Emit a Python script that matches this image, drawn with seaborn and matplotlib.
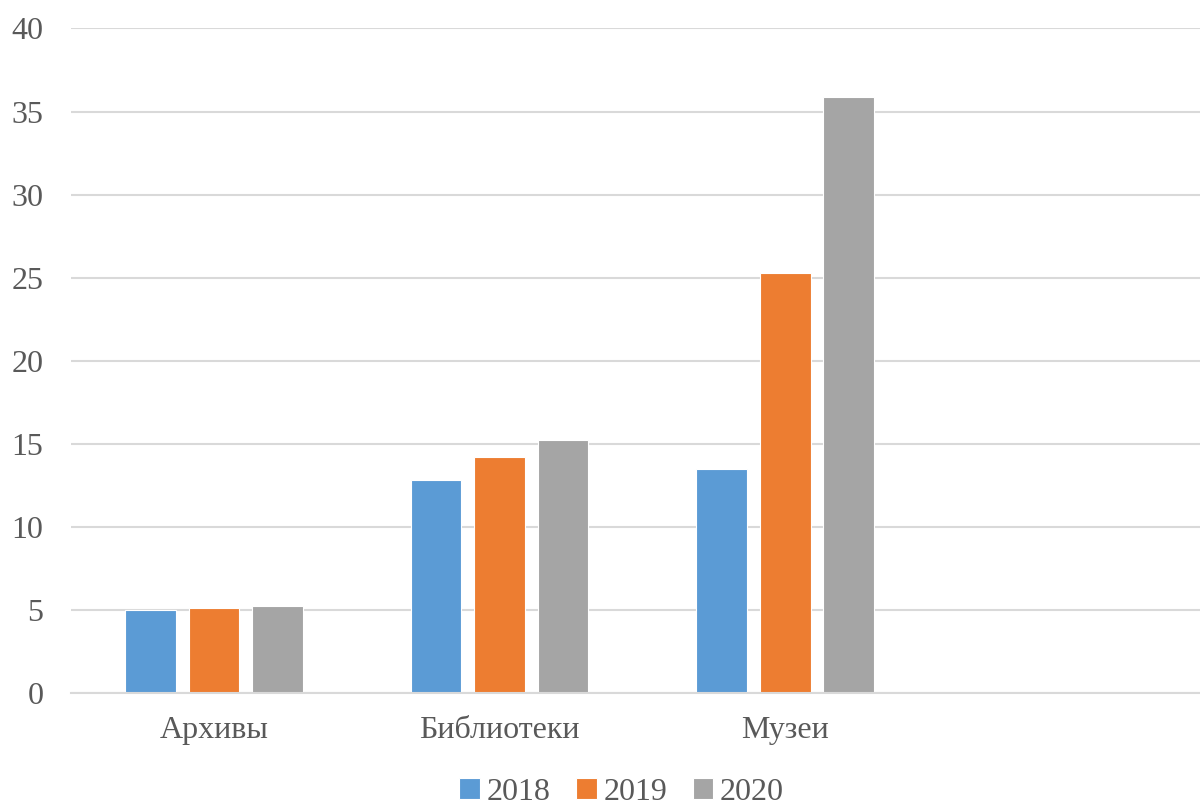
import matplotlib
matplotlib.use("Agg")
import matplotlib.pyplot as plt
import seaborn as sns
import pandas as pd

categories = ["Архивы", "Библиотеки", "Музеи"]
years = ["2018", "2019", "2020"]
values_2018 = [5.0, 12.8, 13.5]
values_2019 = [5.1, 14.2, 25.3]
values_2020 = [5.2, 15.2, 35.9]
y_ticks = [0, 5, 10, 15, 20, 25, 30, 35, 40]
palette = ["#5B9BD5", "#ED7D31", "#A5A5A5"]

df = pd.DataFrame({
    "category": categories * 3,
    "year": [years[0]] * 3 + [years[1]] * 3 + [years[2]] * 3,
    "value": values_2018 + values_2019 + values_2020,
})

sns.set_theme(style="white")
plt.rcParams["font.family"] = ["Liberation Serif", "DejaVu Serif"]

fig = plt.figure(figsize=(12, 8.05), dpi=100)
ax = fig.add_axes([0.0594, 0.1395, 0.9406, 0.8251])

sns.barplot(data=df, x="category", y="value", hue="year", order=categories,
            hue_order=years, palette=palette, width=0.667, gap=0.2,
            saturation=1, edgecolor="white", linewidth=0.8, ax=ax, legend=True)

ax.set_xlim(-0.5, 3.453)
ax.set_ylim(0, 40)
ax.set_yticks(y_ticks)
ax.set_yticklabels([str(t) for t in y_ticks])
ax.yaxis.grid(True, color="#D9D9D9", linewidth=1.5)
ax.set_axisbelow(True)
for side in ["left", "right", "top"]:
    ax.spines[side].set_visible(False)
ax.spines["bottom"].set_color("#D9D9D9")
ax.spines["bottom"].set_linewidth(1.5)
ax.set_xlabel("")
ax.set_ylabel("")
ax.tick_params(axis="y", length=0, pad=20, labelsize=23, labelcolor="#595959")
ax.tick_params(axis="x", length=0, pad=17, labelsize=23, labelcolor="#595959")

handles, labels = ax.get_legend_handles_labels()
ax.get_legend().remove()
fig.legend(handles, labels, loc="center", bbox_to_anchor=(0.518, 0.016),
           ncol=3, frameon=False, fontsize=23, handlelength=0.65,
           handleheight=0.65, handletextpad=0.2, columnspacing=0.8,
           labelcolor="#595959")

fig.savefig("out.png", dpi=100)
